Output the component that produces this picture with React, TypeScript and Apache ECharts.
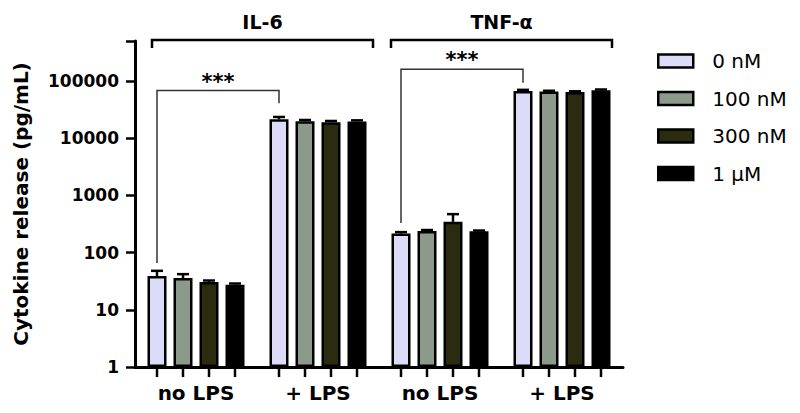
import React, { useEffect, useRef } from "react";
import * as echarts from "echarts";

const categories = ["no LPS", "+ LPS", "no LPS", "+ LPS"];
const seriesNames = ["0 nM", "100 nM", "300 nM", "1 μM"];
const seriesColors = ["#dcdcf8", "#8c9a8c", "#2b2b0f", "#000000"];
// mean values (pg/mL)
const values0nM = [39, 21500, 215, 67000];
const values100nM = [36, 19800, 238, 65500];
const values300nM = [30.5, 19000, 345, 64000];
const values1uM = [27.5, 19600, 236, 69000];
// upper end of error bars (mean + SEM)
const err0nM = [48, 23500, 228, 70000];
const err100nM = [42, 20800, 248, 67500];
const err300nM = [32.5, 20000, 470, 66000];
const err1uM = [28.8, 20500, 243, 71000];
const yTickLabels = ["1", "10", "100", "1000", "10000", "100000"];
const cytokines = ["IL-6", "TNF-α"];

const FONT = "DejaVu Sans";
const BAR_W = 19;
const BAR_GAP = 7;
const offsets = [0, 1, 2, 3].map((i) => (i - 1.5) * (BAR_W + BAR_GAP));

export default function App() {
  const ref = useRef<HTMLDivElement>(null);
  useEffect(() => {
    if (!ref.current) return;
    const chart = echarts.init(ref.current, undefined, { renderer: "svg" });
    const values = [values0nM, values100nM, values300nM, values1uM];
    const errs = [err0nM, err100nM, err300nM, err1uM];

    const errData: number[][] = [];
    values.forEach((arr, s) =>
      arr.forEach((v, c) => errData.push([c, s, v, errs[s][c]]))
    );
    const tickData: number[][] = categories.map((_, c) => [c, 1]);

    const barSeries = seriesNames.map((name, s) => ({
      type: "bar",
      name,
      data: values[s],
      barWidth: BAR_W,
      barGap: (BAR_GAP / BAR_W) * 100 + "%",
      itemStyle: {
        color: seriesColors[s],
        borderColor: "#000",
        borderWidth: 2.5,
      },
      z: 2,
    }));

    const option: any = {
      animation: false,
      grid: { left: 135, top: 41, width: 488, height: 326 },
      legend: {
        orient: "vertical",
        left: 657,
        top: 51,
        padding: 0,
        itemWidth: 35,
        itemHeight: 13,
        itemGap: 17.5,
        icon: "rect",
        data: seriesNames,
        itemStyle: { borderColor: "#000", borderWidth: 2.5 },
        textStyle: {
          fontFamily: FONT,
          fontSize: 20,
          lineHeight: 20,
          color: "#000",
          padding: [0, 0, 0, 14],
        },
      },
      xAxis: {
        type: "category",
        data: categories,
        axisLine: { lineStyle: { color: "#000", width: 3 } },
        axisTick: { show: false },
        axisLabel: {
          fontFamily: FONT,
          fontWeight: "bold",
          fontSize: 20,
          color: "#000",
          margin: 16,
        },
      },
      yAxis: {
        type: "log",
        logBase: 10,
        min: 1,
        max: 500000,
        name: "Cytokine release (pg/mL)",
        nameLocation: "middle",
        nameGap: 104,
        nameTextStyle: {
          fontFamily: FONT,
          fontWeight: "bold",
          fontSize: 20,
          color: "#000",
        },
        axisLine: { show: true, lineStyle: { color: "#000", width: 3 } },
        axisTick: { show: true, length: 9, lineStyle: { color: "#000", width: 2.5 } },
        splitLine: { show: false },
        minorTick: { show: false },
        axisLabel: {
          fontFamily: FONT,
          fontWeight: "bold",
          fontSize: 17,
          color: "#000",
          margin: 16,
          formatter: (v: number) => {
            const e = Math.log10(v);
            const r = Math.round(e);
            if (Math.abs(e - r) > 1e-6) return "";
            return yTickLabels[r] ?? "";
          },
        },
      },
      series: [
        ...barSeries,
        {
          type: "custom",
          name: "err",
          data: errData,
          encode: { x: 0, y: 2 },
          z: 3,
          renderItem: (params: any, api: any) => {
            const c = api.value(0);
            const s = api.value(1);
            const p0 = api.coord([c, api.value(2)]);
            const p1 = api.coord([c, api.value(3)]);
            const x = p0[0] + offsets[s];
            return {
              type: "group",
              children: [
                {
                  type: "line",
                  shape: { x1: x, y1: p0[1], x2: x, y2: p1[1] },
                  style: { stroke: "#000", lineWidth: 2.5 },
                },
                {
                  type: "line",
                  shape: { x1: x - 6, y1: p1[1], x2: x + 6, y2: p1[1] },
                  style: { stroke: "#000", lineWidth: 2.5 },
                },
              ],
            };
          },
        },
        {
          type: "custom",
          name: "ticks",
          data: tickData,
          encode: { x: 0, y: 1 },
          z: 3,
          renderItem: (params: any, api: any) => {
            const p = api.coord([api.value(0), 1]);
            return {
              type: "group",
              children: offsets.map((o) => ({
                type: "line",
                shape: { x1: p[0] + o, y1: p[1], x2: p[0] + o, y2: p[1] + 10 },
                style: { stroke: "#000", lineWidth: 2.5 },
              })),
            };
          },
        },
      ],
    };
    chart.setOption(option);

    const px = (c: number, v: number) =>
      chart.convertToPixel({ xAxisIndex: 0, yAxisIndex: 0 }, [c, v]) as number[];

    const graphics: any[] = [];
    // cytokine brackets
    const bracketSpans = [
      [0, 1, -44, 55],
      [2, 3, -49, 50],
    ];
    cytokines.forEach((name, i) => {
      const [c1, c2, o1, o2] = bracketSpans[i];
      const x1 = px(c1, 1)[0] + o1;
      const x2 = px(c2, 1)[0] + o2;
      graphics.push({
        type: "polyline",
        shape: { points: [[x1, 48], [x1, 40], [x2, 40], [x2, 48]] },
        style: { stroke: "#000", lineWidth: 2.5, fill: "none" },
      });
      graphics.push({
        type: "text",
        x: (x1 + x2) / 2,
        y: 22,
        style: {
          text: name,
          fontFamily: FONT,
          fontWeight: "bold",
          fontSize: 19,
          fill: "#000",
          align: "center",
          verticalAlign: "middle",
        },
      });
    });
    // significance brackets (data-space levels)
    const sigs = [
      { c1: 0, c2: 1, leftBottom: 66, top: 68000, rightBottom: 41000 },
      { c1: 2, c2: 3, leftBottom: 330, top: 160000, rightBottom: 93000 },
    ];
    sigs.forEach((s) => {
      const xl = px(s.c1, 1)[0] + offsets[0];
      const xr = px(s.c2, 1)[0] + offsets[0];
      const yl = px(s.c1, s.leftBottom)[1];
      const yt = px(s.c1, s.top)[1];
      const yr = px(s.c1, s.rightBottom)[1];
      graphics.push({
        type: "polyline",
        shape: { points: [[xl, yl], [xl, yt], [xr, yt], [xr, yr]] },
        style: { stroke: "#333", lineWidth: 1.5, fill: "none" },
      });
      graphics.push({
        type: "text",
        x: (xl + xr) / 2,
        y: yt - 9,
        style: {
          text: "***",
          fontFamily: FONT,
          fontWeight: "bold",
          fontSize: 21,
          fill: "#000",
          align: "center",
          verticalAlign: "middle",
        },
      });
    });
    chart.setOption({ graphic: graphics });

    return () => chart.dispose();
  }, []);
  return (
    <div
      ref={ref}
      style={{ position: "absolute", left: 0, top: 0, width: 800, height: 413 }}
    />
  );
}
